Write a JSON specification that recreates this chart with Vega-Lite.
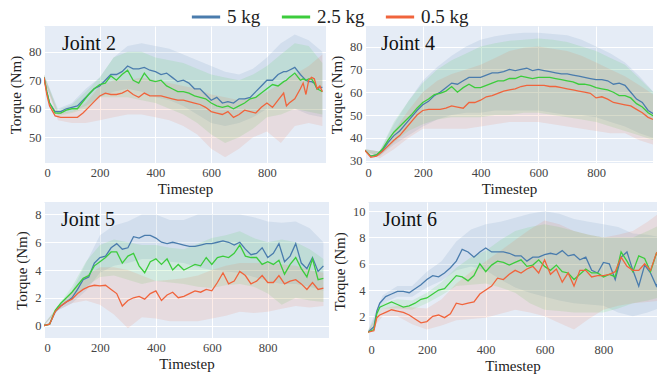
{
"$schema":"https://vega.github.io/schema/vega-lite/v6.json",
"padding":{"left":8,"top":1,"right":4,"bottom":4},
"config":{"view":{"fill":"#e5ecf6","stroke":null},
"font":"Liberation Serif",
"axis":{"domain":false,"ticks":false,"labelOverlap":false,"gridColor":"#ffffff","gridWidth":1,"labelFont":"Liberation Serif","labelFontSize":12.5,"labelColor":"#444444","labelPadding":3,"titleFont":"Liberation Serif","titleFontSize":15,"titleFontWeight":"normal","titleColor":"#222222","tickCount":12},
"axisX":{"titlePadding":3},
"axisY":{"titlePadding":5},
"legend":{"orient":"none","legendX":146,"legendY":-25,"direction":"horizontal","title":null,"symbolType":"stroke","symbolSize":800,"symbolStrokeWidth":3,"symbolOpacity":1,"labelFont":"Liberation Serif","labelFontSize":19,"labelColor":"#222222","columnPadding":14,"labelOffset":5},
"title":{"font":"Liberation Serif","fontSize":20,"fontWeight":"normal","color":"#111111","anchor":"start","frame":"group","baseline":"top","offset":-28}},
"datasets":{
"lines":[
{"p":2,"t":0,"b":71,"g":71,"r":71},{"p":2,"t":10,"b":66,"g":66,"r":65},{"p":2,"t":20,"b":62,"g":62,"r":61},{"p":2,"t":40,"b":59,"g":58.5,"r":57.5},{"p":2,"t":60,"b":59,"g":58.5,"r":57},{"p":2,"t":80,"b":60,"g":59.5,"r":57},{"p":2,"t":100,"b":60.5,"g":60,"r":57},{"p":2,"t":120,"b":61,"g":60,"r":57},{"p":2,"t":140,"b":63,"g":62.5,"r":58.5},{"p":2,"t":160,"b":65,"g":65,"r":60.5},{"p":2,"t":180,"b":67,"g":67,"r":62.5},{"p":2,"t":200,"b":68,"g":68.5,"r":64.5},{"p":2,"t":220,"b":70,"g":69,"r":65.5},{"p":2,"t":240,"b":72,"g":71.5,"r":65},{"p":2,"t":260,"b":72,"g":70,"r":65},{"p":2,"t":280,"b":73,"g":72,"r":65.5},{"p":2,"t":300,"b":75,"g":73.5,"r":66.5},{"p":2,"t":320,"b":74,"g":70,"r":65},{"p":2,"t":340,"b":74,"g":69,"r":64},{"p":2,"t":360,"b":74.5,"g":72.5,"r":65.5},{"p":2,"t":380,"b":73.5,"g":70,"r":64.5},{"p":2,"t":400,"b":73,"g":69.5,"r":64.5},{"p":2,"t":420,"b":72,"g":70,"r":64.5},{"p":2,"t":440,"b":72.5,"g":68,"r":64},{"p":2,"t":460,"b":71,"g":67,"r":63.5},{"p":2,"t":480,"b":69.5,"g":66,"r":63},{"p":2,"t":500,"b":70,"g":66,"r":63},{"p":2,"t":520,"b":69,"g":65.5,"r":62.5},{"p":2,"t":540,"b":67,"g":64.5,"r":62},{"p":2,"t":560,"b":67,"g":64,"r":61.5},{"p":2,"t":580,"b":65,"g":63.5,"r":60.5},{"p":2,"t":600,"b":63,"g":62,"r":59},{"p":2,"t":620,"b":64,"g":61,"r":58.5},{"p":2,"t":640,"b":62,"g":60.5,"r":58},{"p":2,"t":660,"b":62.5,"g":61,"r":59},{"p":2,"t":680,"b":62,"g":60,"r":57},{"p":2,"t":700,"b":63.5,"g":61,"r":58},{"p":2,"t":720,"b":63.5,"g":62,"r":59.5},{"p":2,"t":740,"b":64,"g":63.5,"r":59},{"p":2,"t":760,"b":66,"g":64,"r":58.5},{"p":2,"t":780,"b":68,"g":65.5,"r":60.5},{"p":2,"t":800,"b":70,"g":67,"r":62},{"p":2,"t":820,"b":70,"g":68.5,"r":60.5},{"p":2,"t":840,"b":72,"g":68,"r":63},{"p":2,"t":860,"b":73,"g":69.5,"r":65.5},{"p":2,"t":870,"b":73,"g":70,"r":61},{"p":2,"t":880,"b":73.5,"g":71,"r":62},{"p":2,"t":900,"b":74.5,"g":72.5,"r":63.5},{"p":2,"t":920,"b":72,"g":70,"r":67},{"p":2,"t":930,"b":71,"g":70.5,"r":69},{"p":2,"t":940,"b":70,"g":70,"r":65},{"p":2,"t":950,"b":69.5,"g":70.5,"r":70},{"p":2,"t":960,"b":69.5,"g":70.5,"r":71},{"p":2,"t":970,"b":69,"g":69,"r":70.5},{"p":2,"t":980,"b":67,"g":67,"r":67},{"p":2,"t":990,"b":67.5,"g":66.5,"r":68},{"p":2,"t":999,"b":67.5,"g":66,"r":66},
{"p":4,"t":0,"b":34.5,"g":34.5,"r":34.5},{"p":4,"t":20,"b":32,"g":32,"r":31.5},{"p":4,"t":40,"b":32.5,"g":32.5,"r":32},{"p":4,"t":60,"b":34.5,"g":35,"r":34},{"p":4,"t":80,"b":38,"g":39,"r":36.5},{"p":4,"t":100,"b":41,"g":42.5,"r":39},{"p":4,"t":120,"b":43,"g":45,"r":41},{"p":4,"t":140,"b":46,"g":47.5,"r":44},{"p":4,"t":160,"b":49,"g":50,"r":47},{"p":4,"t":180,"b":52,"g":53,"r":50},{"p":4,"t":200,"b":54.5,"g":55.5,"r":52},{"p":4,"t":220,"b":56,"g":57,"r":52.5},{"p":4,"t":240,"b":58.5,"g":59,"r":52.5},{"p":4,"t":260,"b":60,"g":59.5,"r":52.5},{"p":4,"t":280,"b":62,"g":60.5,"r":53},{"p":4,"t":300,"b":64,"g":62.5,"r":54},{"p":4,"t":320,"b":63.5,"g":60,"r":53.5},{"p":4,"t":340,"b":65,"g":62,"r":53},{"p":4,"t":360,"b":66.5,"g":63.5,"r":55.5},{"p":4,"t":380,"b":66.5,"g":62,"r":55.5},{"p":4,"t":400,"b":66.5,"g":62,"r":56.5},{"p":4,"t":420,"b":67.5,"g":63,"r":58},{"p":4,"t":440,"b":68.5,"g":64,"r":58.5},{"p":4,"t":460,"b":68.5,"g":65,"r":59.5},{"p":4,"t":480,"b":69,"g":65,"r":60.5},{"p":4,"t":500,"b":70,"g":66,"r":61},{"p":4,"t":520,"b":69.5,"g":66,"r":61.5},{"p":4,"t":540,"b":70,"g":67,"r":62.5},{"p":4,"t":560,"b":70.5,"g":66.5,"r":63},{"p":4,"t":580,"b":69.5,"g":66,"r":63},{"p":4,"t":600,"b":70,"g":66.5,"r":63},{"p":4,"t":620,"b":69.5,"g":66.5,"r":63},{"p":4,"t":640,"b":69,"g":66.5,"r":62.5},{"p":4,"t":660,"b":68.5,"g":66,"r":62.5},{"p":4,"t":680,"b":68,"g":65.5,"r":62},{"p":4,"t":700,"b":68,"g":65,"r":61.5},{"p":4,"t":720,"b":67.5,"g":64.5,"r":61},{"p":4,"t":740,"b":67,"g":63.5,"r":60.5},{"p":4,"t":760,"b":66.5,"g":63.5,"r":60},{"p":4,"t":780,"b":66,"g":63,"r":59.5},{"p":4,"t":800,"b":65.5,"g":62,"r":57.5},{"p":4,"t":820,"b":65.5,"g":61.5,"r":58},{"p":4,"t":840,"b":65,"g":61,"r":57},{"p":4,"t":860,"b":63.5,"g":60,"r":55.5},{"p":4,"t":880,"b":64,"g":58.5,"r":55},{"p":4,"t":900,"b":63,"g":58.5,"r":54.5},{"p":4,"t":920,"b":60,"g":57.5,"r":54},{"p":4,"t":940,"b":57,"g":55,"r":52.5},{"p":4,"t":960,"b":55.5,"g":53.5,"r":51},{"p":4,"t":980,"b":52,"g":51,"r":49},{"p":4,"t":999,"b":50.5,"g":49.5,"r":48},
{"p":5,"t":0,"b":0,"g":0,"r":0},{"p":5,"t":20,"b":0.1,"g":0.1,"r":0.1},{"p":5,"t":40,"b":1.0,"g":1.1,"r":1.0},{"p":5,"t":60,"b":1.4,"g":1.6,"r":1.4},{"p":5,"t":80,"b":1.7,"g":2.0,"r":1.7},{"p":5,"t":100,"b":2.0,"g":2.4,"r":1.9},{"p":5,"t":120,"b":2.6,"g":2.9,"r":2.3},{"p":5,"t":140,"b":3.3,"g":3.4,"r":2.6},{"p":5,"t":160,"b":3.5,"g":3.6,"r":2.8},{"p":5,"t":180,"b":4.5,"g":4.3,"r":2.9},{"p":5,"t":200,"b":4.9,"g":4.6,"r":2.85},{"p":5,"t":220,"b":5.0,"g":4.9,"r":2.9},{"p":5,"t":240,"b":5.6,"g":5.3,"r":2.6},{"p":5,"t":260,"b":5.9,"g":5.3,"r":2.3},{"p":5,"t":280,"b":5.5,"g":4.5,"r":1.4},{"p":5,"t":300,"b":5.6,"g":5.0,"r":1.8},{"p":5,"t":320,"b":6.4,"g":5.2,"r":2.0},{"p":5,"t":340,"b":6.3,"g":4.3,"r":2.1},{"p":5,"t":360,"b":6.5,"g":3.8,"r":1.9},{"p":5,"t":380,"b":6.5,"g":4.6,"r":2.3},{"p":5,"t":400,"b":6.3,"g":4.8,"r":2.5},{"p":5,"t":420,"b":6.0,"g":4.4,"r":1.8},{"p":5,"t":440,"b":5.9,"g":4.8,"r":2.2},{"p":5,"t":460,"b":6.0,"g":4.0,"r":2.4},{"p":5,"t":480,"b":5.9,"g":4.4,"r":2.0},{"p":5,"t":500,"b":5.8,"g":4.0,"r":2.1},{"p":5,"t":520,"b":5.7,"g":4.2,"r":2.3},{"p":5,"t":540,"b":5.7,"g":4.4,"r":2.5},{"p":5,"t":560,"b":5.8,"g":4.3,"r":2.4},{"p":5,"t":580,"b":5.9,"g":4.9,"r":2.6},{"p":5,"t":600,"b":5.9,"g":4.4,"r":2.5},{"p":5,"t":620,"b":6.0,"g":4.9,"r":3.1},{"p":5,"t":640,"b":6.1,"g":5.0,"r":3.8},{"p":5,"t":660,"b":6.0,"g":4.9,"r":3.0},{"p":5,"t":680,"b":5.8,"g":5.2,"r":3.2},{"p":5,"t":700,"b":6.0,"g":5.8,"r":3.9},{"p":5,"t":720,"b":5.5,"g":5.0,"r":3.6},{"p":5,"t":740,"b":5.1,"g":4.9,"r":3.0},{"p":5,"t":760,"b":5.2,"g":4.9,"r":3.2},{"p":5,"t":780,"b":5.6,"g":4.4,"r":3.6},{"p":5,"t":800,"b":4.9,"g":4.6,"r":3.1},{"p":5,"t":820,"b":5.2,"g":4.4,"r":3.1},{"p":5,"t":840,"b":5.9,"g":4.7,"r":3.6},{"p":5,"t":860,"b":4.6,"g":3.7,"r":3.0},{"p":5,"t":880,"b":5.0,"g":4.4,"r":3.2},{"p":5,"t":900,"b":5.9,"g":4.9,"r":3.3},{"p":5,"t":920,"b":4.5,"g":4.1,"r":3.0},{"p":5,"t":940,"b":4.1,"g":3.5,"r":2.6},{"p":5,"t":960,"b":4.9,"g":4.8,"r":3.1},{"p":5,"t":980,"b":3.9,"g":3.3,"r":2.6},{"p":5,"t":999,"b":4.3,"g":3.4,"r":2.7},
{"p":6,"t":0,"b":0.8,"g":0.8,"r":0.8},{"p":6,"t":20,"b":1.2,"g":1.0,"r":0.9},{"p":6,"t":30,"b":2.4,"g":2.2,"r":1.9},{"p":6,"t":40,"b":3.0,"g":2.7,"r":2.1},{"p":6,"t":60,"b":3.5,"g":2.9,"r":2.3},{"p":6,"t":80,"b":3.7,"g":3.1,"r":2.5},{"p":6,"t":100,"b":3.9,"g":2.9,"r":2.4},{"p":6,"t":120,"b":3.9,"g":2.7,"r":2.3},{"p":6,"t":140,"b":3.8,"g":2.8,"r":2.1},{"p":6,"t":160,"b":4.1,"g":3.0,"r":1.8},{"p":6,"t":180,"b":4.4,"g":3.3,"r":1.5},{"p":6,"t":200,"b":4.8,"g":3.4,"r":1.6},{"p":6,"t":220,"b":5.1,"g":3.7,"r":2.0},{"p":6,"t":240,"b":5.0,"g":4.0,"r":2.1},{"p":6,"t":260,"b":5.3,"g":4.1,"r":1.9},{"p":6,"t":280,"b":5.7,"g":4.6,"r":2.2},{"p":6,"t":300,"b":6.2,"g":5.1,"r":3.0},{"p":6,"t":320,"b":7.1,"g":5.0,"r":2.9},{"p":6,"t":340,"b":6.9,"g":4.7,"r":3.0},{"p":6,"t":360,"b":6.5,"g":5.1,"r":3.1},{"p":6,"t":380,"b":6.9,"g":6.0,"r":3.7},{"p":6,"t":400,"b":7.2,"g":5.4,"r":4.0},{"p":6,"t":420,"b":6.9,"g":5.9,"r":4.3},{"p":6,"t":440,"b":6.9,"g":6.2,"r":4.9},{"p":6,"t":460,"b":6.9,"g":6.1,"r":4.8},{"p":6,"t":480,"b":6.8,"g":5.9,"r":5.2},{"p":6,"t":500,"b":6.6,"g":6.1,"r":5.5},{"p":6,"t":520,"b":6.6,"g":6.3,"r":5.3},{"p":6,"t":540,"b":6.2,"g":5.8,"r":5.6},{"p":6,"t":560,"b":6.5,"g":5.9,"r":5.8},{"p":6,"t":580,"b":6.5,"g":6.3,"r":5.3},{"p":6,"t":600,"b":6.7,"g":5.8,"r":6.3},{"p":6,"t":620,"b":6.8,"g":5.5,"r":5.2},{"p":6,"t":640,"b":6.7,"g":5.9,"r":5.6},{"p":6,"t":660,"b":7.0,"g":5.4,"r":4.6},{"p":6,"t":680,"b":6.6,"g":5.3,"r":5.3},{"p":6,"t":700,"b":6.7,"g":4.8,"r":4.3},{"p":6,"t":720,"b":6.3,"g":5.2,"r":5.5},{"p":6,"t":740,"b":6.5,"g":5.6,"r":5.5},{"p":6,"t":760,"b":5.5,"g":5.3,"r":5.0},{"p":6,"t":780,"b":5.3,"g":5.3,"r":5.1},{"p":6,"t":800,"b":6.1,"g":5.0,"r":5.1},{"p":6,"t":820,"b":6.0,"g":5.2,"r":5.2},{"p":6,"t":840,"b":4.8,"g":5.0,"r":5.4},{"p":6,"t":860,"b":6.5,"g":6.9,"r":6.5},{"p":6,"t":880,"b":6.9,"g":6.2,"r":5.8},{"p":6,"t":900,"b":5.5,"g":5.4,"r":5.5},{"p":6,"t":920,"b":4.3,"g":6.6,"r":5.5},{"p":6,"t":940,"b":5.9,"g":6.4,"r":6.0},{"p":6,"t":960,"b":5.3,"g":5.4,"r":5.5},{"p":6,"t":980,"b":4.3,"g":6.8,"r":6.8},{"p":6,"t":999,"b":5.2,"g":6.1,"r":7.3}
],
"bands":[
{"p":2,"m":"b","t":0,"lo":70,"hi":72},{"p":2,"m":"b","t":50,"lo":58,"hi":60},{"p":2,"m":"b","t":100,"lo":59,"hi":62},{"p":2,"m":"b","t":150,"lo":61,"hi":67},{"p":2,"m":"b","t":200,"lo":64,"hi":71},{"p":2,"m":"b","t":250,"lo":66,"hi":78},{"p":2,"m":"b","t":300,"lo":67,"hi":82},{"p":2,"m":"b","t":350,"lo":66,"hi":83},{"p":2,"m":"b","t":400,"lo":64,"hi":82},{"p":2,"m":"b","t":450,"lo":63,"hi":81},{"p":2,"m":"b","t":500,"lo":61,"hi":79},{"p":2,"m":"b","t":550,"lo":58,"hi":77},{"p":2,"m":"b","t":600,"lo":55,"hi":75},{"p":2,"m":"b","t":650,"lo":54,"hi":73},{"p":2,"m":"b","t":700,"lo":55,"hi":72},{"p":2,"m":"b","t":750,"lo":57,"hi":74},{"p":2,"m":"b","t":800,"lo":60,"hi":78},{"p":2,"m":"b","t":850,"lo":60,"hi":83},{"p":2,"m":"b","t":900,"lo":60,"hi":86},{"p":2,"m":"b","t":950,"lo":58,"hi":84},{"p":2,"m":"b","t":999,"lo":57,"hi":80},
{"p":2,"m":"g","t":0,"lo":70,"hi":72},{"p":2,"m":"g","t":50,"lo":57.5,"hi":59.5},{"p":2,"m":"g","t":100,"lo":58.5,"hi":61.5},{"p":2,"m":"g","t":150,"lo":60,"hi":66},{"p":2,"m":"g","t":200,"lo":64,"hi":71},{"p":2,"m":"g","t":250,"lo":64,"hi":78},{"p":2,"m":"g","t":300,"lo":64,"hi":80},{"p":2,"m":"g","t":350,"lo":63,"hi":80},{"p":2,"m":"g","t":400,"lo":62,"hi":78},{"p":2,"m":"g","t":450,"lo":60,"hi":77},{"p":2,"m":"g","t":500,"lo":58,"hi":76},{"p":2,"m":"g","t":550,"lo":55,"hi":74},{"p":2,"m":"g","t":600,"lo":51,"hi":72},{"p":2,"m":"g","t":650,"lo":48,"hi":71},{"p":2,"m":"g","t":700,"lo":50,"hi":70},{"p":2,"m":"g","t":750,"lo":53,"hi":72},{"p":2,"m":"g","t":800,"lo":57,"hi":75},{"p":2,"m":"g","t":850,"lo":58,"hi":79},{"p":2,"m":"g","t":900,"lo":60,"hi":83},{"p":2,"m":"g","t":950,"lo":59,"hi":82},{"p":2,"m":"g","t":999,"lo":58,"hi":76},
{"p":2,"m":"r","t":0,"lo":70,"hi":72},{"p":2,"m":"r","t":50,"lo":56,"hi":58.5},{"p":2,"m":"r","t":100,"lo":55,"hi":59},{"p":2,"m":"r","t":150,"lo":55,"hi":62},{"p":2,"m":"r","t":200,"lo":56,"hi":68},{"p":2,"m":"r","t":250,"lo":57,"hi":70},{"p":2,"m":"r","t":300,"lo":58,"hi":70},{"p":2,"m":"r","t":350,"lo":58,"hi":71},{"p":2,"m":"r","t":400,"lo":57,"hi":70},{"p":2,"m":"r","t":450,"lo":56,"hi":69},{"p":2,"m":"r","t":500,"lo":54,"hi":68},{"p":2,"m":"r","t":550,"lo":51,"hi":67},{"p":2,"m":"r","t":600,"lo":46,"hi":65},{"p":2,"m":"r","t":650,"lo":43,"hi":64},{"p":2,"m":"r","t":700,"lo":46,"hi":63},{"p":2,"m":"r","t":750,"lo":50,"hi":64},{"p":2,"m":"r","t":800,"lo":52,"hi":66},{"p":2,"m":"r","t":850,"lo":48,"hi":69},{"p":2,"m":"r","t":900,"lo":54,"hi":72},{"p":2,"m":"r","t":950,"lo":55,"hi":75},{"p":2,"m":"r","t":999,"lo":54,"hi":79},
{"p":4,"m":"b","t":0,"lo":34,"hi":35},{"p":4,"m":"b","t":50,"lo":32,"hi":34},{"p":4,"m":"b","t":100,"lo":37,"hi":46},{"p":4,"m":"b","t":150,"lo":41,"hi":56},{"p":4,"m":"b","t":200,"lo":45,"hi":65},{"p":4,"m":"b","t":250,"lo":48,"hi":71},{"p":4,"m":"b","t":300,"lo":50,"hi":76},{"p":4,"m":"b","t":350,"lo":51,"hi":80},{"p":4,"m":"b","t":400,"lo":51,"hi":83},{"p":4,"m":"b","t":450,"lo":52,"hi":84.5},{"p":4,"m":"b","t":500,"lo":52,"hi":85.5},{"p":4,"m":"b","t":550,"lo":52,"hi":86},{"p":4,"m":"b","t":600,"lo":52,"hi":86},{"p":4,"m":"b","t":650,"lo":51,"hi":85.5},{"p":4,"m":"b","t":700,"lo":50,"hi":85},{"p":4,"m":"b","t":750,"lo":50,"hi":83},{"p":4,"m":"b","t":800,"lo":49,"hi":80},{"p":4,"m":"b","t":850,"lo":47,"hi":77},{"p":4,"m":"b","t":900,"lo":45,"hi":73},{"p":4,"m":"b","t":950,"lo":42,"hi":67},{"p":4,"m":"b","t":999,"lo":40,"hi":60},
{"p":4,"m":"g","t":0,"lo":34,"hi":35},{"p":4,"m":"g","t":50,"lo":32,"hi":34},{"p":4,"m":"g","t":100,"lo":38,"hi":47},{"p":4,"m":"g","t":150,"lo":43,"hi":56},{"p":4,"m":"g","t":200,"lo":46,"hi":64},{"p":4,"m":"g","t":250,"lo":48,"hi":70},{"p":4,"m":"g","t":300,"lo":49,"hi":74},{"p":4,"m":"g","t":350,"lo":49,"hi":77},{"p":4,"m":"g","t":400,"lo":49,"hi":80},{"p":4,"m":"g","t":450,"lo":50,"hi":81.5},{"p":4,"m":"g","t":500,"lo":50,"hi":82.5},{"p":4,"m":"g","t":550,"lo":51,"hi":83},{"p":4,"m":"g","t":600,"lo":51,"hi":83.5},{"p":4,"m":"g","t":650,"lo":50,"hi":83},{"p":4,"m":"g","t":700,"lo":49,"hi":82},{"p":4,"m":"g","t":750,"lo":48,"hi":80},{"p":4,"m":"g","t":800,"lo":47,"hi":78},{"p":4,"m":"g","t":850,"lo":45,"hi":75},{"p":4,"m":"g","t":900,"lo":43,"hi":72},{"p":4,"m":"g","t":950,"lo":41,"hi":66},{"p":4,"m":"g","t":999,"lo":39,"hi":60},
{"p":4,"m":"r","t":0,"lo":34,"hi":35},{"p":4,"m":"r","t":50,"lo":31,"hi":34},{"p":4,"m":"r","t":100,"lo":35,"hi":43},{"p":4,"m":"r","t":150,"lo":40,"hi":52},{"p":4,"m":"r","t":200,"lo":44,"hi":60},{"p":4,"m":"r","t":250,"lo":44,"hi":65},{"p":4,"m":"r","t":300,"lo":44,"hi":68},{"p":4,"m":"r","t":350,"lo":44,"hi":70},{"p":4,"m":"r","t":400,"lo":45,"hi":72},{"p":4,"m":"r","t":450,"lo":46,"hi":75},{"p":4,"m":"r","t":500,"lo":47,"hi":78},{"p":4,"m":"r","t":550,"lo":47,"hi":79.5},{"p":4,"m":"r","t":600,"lo":47,"hi":80},{"p":4,"m":"r","t":650,"lo":46,"hi":79},{"p":4,"m":"r","t":700,"lo":45,"hi":78},{"p":4,"m":"r","t":750,"lo":44,"hi":76},{"p":4,"m":"r","t":800,"lo":43,"hi":73},{"p":4,"m":"r","t":850,"lo":42,"hi":70},{"p":4,"m":"r","t":900,"lo":42,"hi":67},{"p":4,"m":"r","t":950,"lo":39,"hi":63},{"p":4,"m":"r","t":999,"lo":37,"hi":59},
{"p":5,"m":"b","t":0,"lo":0,"hi":0.1},{"p":5,"m":"b","t":50,"lo":1.1,"hi":1.3},{"p":5,"m":"b","t":100,"lo":1.6,"hi":2.5},{"p":5,"m":"b","t":150,"lo":2.5,"hi":4.5},{"p":5,"m":"b","t":200,"lo":3.8,"hi":6.5},{"p":5,"m":"b","t":250,"lo":4.3,"hi":7.2},{"p":5,"m":"b","t":300,"lo":4.5,"hi":7.5},{"p":5,"m":"b","t":350,"lo":4.8,"hi":8.0},{"p":5,"m":"b","t":400,"lo":4.8,"hi":8.0},{"p":5,"m":"b","t":450,"lo":4.6,"hi":7.6},{"p":5,"m":"b","t":500,"lo":4.5,"hi":7.6},{"p":5,"m":"b","t":550,"lo":4.2,"hi":8.0},{"p":5,"m":"b","t":600,"lo":4.0,"hi":8.0},{"p":5,"m":"b","t":650,"lo":3.9,"hi":8.0},{"p":5,"m":"b","t":700,"lo":3.8,"hi":8.0},{"p":5,"m":"b","t":750,"lo":3.5,"hi":7.8},{"p":5,"m":"b","t":800,"lo":3.2,"hi":7.5},{"p":5,"m":"b","t":850,"lo":3.0,"hi":7.4},{"p":5,"m":"b","t":900,"lo":3.0,"hi":7.5},{"p":5,"m":"b","t":950,"lo":2.8,"hi":7.0},{"p":5,"m":"b","t":999,"lo":2.5,"hi":6.0},
{"p":5,"m":"g","t":0,"lo":0,"hi":0.1},{"p":5,"m":"g","t":50,"lo":1.2,"hi":1.4},{"p":5,"m":"g","t":100,"lo":2.0,"hi":2.8},{"p":5,"m":"g","t":150,"lo":2.8,"hi":4.6},{"p":5,"m":"g","t":200,"lo":3.5,"hi":5.8},{"p":5,"m":"g","t":250,"lo":3.6,"hi":6.2},{"p":5,"m":"g","t":300,"lo":3.3,"hi":6.0},{"p":5,"m":"g","t":350,"lo":3.0,"hi":5.8},{"p":5,"m":"g","t":400,"lo":3.2,"hi":5.8},{"p":5,"m":"g","t":450,"lo":3.1,"hi":5.6},{"p":5,"m":"g","t":500,"lo":3.0,"hi":5.5},{"p":5,"m":"g","t":550,"lo":2.8,"hi":5.9},{"p":5,"m":"g","t":600,"lo":2.7,"hi":6.3},{"p":5,"m":"g","t":650,"lo":2.9,"hi":6.5},{"p":5,"m":"g","t":700,"lo":3.0,"hi":6.8},{"p":5,"m":"g","t":750,"lo":2.8,"hi":6.3},{"p":5,"m":"g","t":800,"lo":2.3,"hi":6.0},{"p":5,"m":"g","t":850,"lo":1.5,"hi":6.2},{"p":5,"m":"g","t":900,"lo":2.0,"hi":6.0},{"p":5,"m":"g","t":950,"lo":1.8,"hi":5.5},{"p":5,"m":"g","t":999,"lo":1.7,"hi":4.8},
{"p":5,"m":"r","t":0,"lo":0,"hi":0.1},{"p":5,"m":"r","t":50,"lo":1.1,"hi":1.3},{"p":5,"m":"r","t":100,"lo":1.6,"hi":2.4},{"p":5,"m":"r","t":150,"lo":1.8,"hi":3.6},{"p":5,"m":"r","t":200,"lo":1.5,"hi":4.2},{"p":5,"m":"r","t":250,"lo":0.8,"hi":4.2},{"p":5,"m":"r","t":300,"lo":-0.2,"hi":4.0},{"p":5,"m":"r","t":350,"lo":0.6,"hi":3.6},{"p":5,"m":"r","t":400,"lo":0.5,"hi":3.2},{"p":5,"m":"r","t":450,"lo":0.3,"hi":3.3},{"p":5,"m":"r","t":500,"lo":0.3,"hi":3.4},{"p":5,"m":"r","t":550,"lo":0.3,"hi":3.6},{"p":5,"m":"r","t":600,"lo":0.5,"hi":4.0},{"p":5,"m":"r","t":650,"lo":0.7,"hi":4.3},{"p":5,"m":"r","t":700,"lo":1.0,"hi":4.5},{"p":5,"m":"r","t":750,"lo":0.9,"hi":4.5},{"p":5,"m":"r","t":800,"lo":1.0,"hi":4.5},{"p":5,"m":"r","t":850,"lo":1.2,"hi":4.4},{"p":5,"m":"r","t":900,"lo":1.4,"hi":4.3},{"p":5,"m":"r","t":950,"lo":1.3,"hi":4.0},{"p":5,"m":"r","t":999,"lo":1.4,"hi":3.8},
{"p":6,"m":"b","t":0,"lo":0.7,"hi":0.9},{"p":6,"m":"b","t":50,"lo":3.0,"hi":3.6},{"p":6,"m":"b","t":100,"lo":3.5,"hi":4.3},{"p":6,"m":"b","t":150,"lo":3.5,"hi":4.3},{"p":6,"m":"b","t":200,"lo":4.2,"hi":5.4},{"p":6,"m":"b","t":250,"lo":4.7,"hi":6.2},{"p":6,"m":"b","t":300,"lo":5.5,"hi":7.7},{"p":6,"m":"b","t":350,"lo":5.8,"hi":8.6},{"p":6,"m":"b","t":400,"lo":5.5,"hi":9.0},{"p":6,"m":"b","t":450,"lo":4.8,"hi":9.2},{"p":6,"m":"b","t":500,"lo":4.2,"hi":9.5},{"p":6,"m":"b","t":550,"lo":3.8,"hi":9.8},{"p":6,"m":"b","t":600,"lo":3.5,"hi":10.0},{"p":6,"m":"b","t":650,"lo":3.2,"hi":9.8},{"p":6,"m":"b","t":700,"lo":3.0,"hi":9.4},{"p":6,"m":"b","t":750,"lo":2.9,"hi":9.2},{"p":6,"m":"b","t":800,"lo":2.8,"hi":9.0},{"p":6,"m":"b","t":850,"lo":2.3,"hi":8.8},{"p":6,"m":"b","t":900,"lo":2.0,"hi":8.3},{"p":6,"m":"b","t":950,"lo":2.3,"hi":8.2},{"p":6,"m":"b","t":999,"lo":2.7,"hi":8.0},
{"p":6,"m":"g","t":0,"lo":0.7,"hi":0.9},{"p":6,"m":"g","t":50,"lo":2.6,"hi":3.0},{"p":6,"m":"g","t":100,"lo":2.6,"hi":3.3},{"p":6,"m":"g","t":150,"lo":2.5,"hi":3.2},{"p":6,"m":"g","t":200,"lo":3.0,"hi":3.8},{"p":6,"m":"g","t":250,"lo":3.6,"hi":4.6},{"p":6,"m":"g","t":300,"lo":4.3,"hi":5.7},{"p":6,"m":"g","t":350,"lo":4.4,"hi":6.5},{"p":6,"m":"g","t":400,"lo":4.5,"hi":7.0},{"p":6,"m":"g","t":450,"lo":4.2,"hi":7.8},{"p":6,"m":"g","t":500,"lo":3.8,"hi":8.5},{"p":6,"m":"g","t":550,"lo":3.0,"hi":8.8},{"p":6,"m":"g","t":600,"lo":2.5,"hi":9.0},{"p":6,"m":"g","t":650,"lo":2.4,"hi":8.8},{"p":6,"m":"g","t":700,"lo":2.3,"hi":8.5},{"p":6,"m":"g","t":750,"lo":2.3,"hi":8.2},{"p":6,"m":"g","t":800,"lo":2.3,"hi":8.0},{"p":6,"m":"g","t":850,"lo":2.6,"hi":8.0},{"p":6,"m":"g","t":900,"lo":3.0,"hi":8.0},{"p":6,"m":"g","t":950,"lo":3.2,"hi":8.5},{"p":6,"m":"g","t":999,"lo":3.5,"hi":9.0},
{"p":6,"m":"r","t":0,"lo":0.7,"hi":0.9},{"p":6,"m":"r","t":50,"lo":2.0,"hi":2.6},{"p":6,"m":"r","t":100,"lo":2.0,"hi":2.8},{"p":6,"m":"r","t":150,"lo":1.4,"hi":2.7},{"p":6,"m":"r","t":200,"lo":1.0,"hi":2.6},{"p":6,"m":"r","t":250,"lo":1.3,"hi":3.3},{"p":6,"m":"r","t":300,"lo":1.7,"hi":4.5},{"p":6,"m":"r","t":350,"lo":1.8,"hi":5.4},{"p":6,"m":"r","t":400,"lo":1.9,"hi":6.2},{"p":6,"m":"r","t":450,"lo":2.2,"hi":7.0},{"p":6,"m":"r","t":500,"lo":2.5,"hi":7.8},{"p":6,"m":"r","t":550,"lo":2.3,"hi":8.6},{"p":6,"m":"r","t":600,"lo":2.0,"hi":9.3},{"p":6,"m":"r","t":650,"lo":1.5,"hi":9.0},{"p":6,"m":"r","t":700,"lo":1.0,"hi":8.5},{"p":6,"m":"r","t":750,"lo":1.8,"hi":8.2},{"p":6,"m":"r","t":800,"lo":2.5,"hi":8.0},{"p":6,"m":"r","t":850,"lo":2.8,"hi":8.2},{"p":6,"m":"r","t":900,"lo":3.0,"hi":8.5},{"p":6,"m":"r","t":950,"lo":3.1,"hi":9.2},{"p":6,"m":"r","t":999,"lo":3.2,"hi":10.0}
]},
"spacing":5,
"vconcat":[
{"spacing":3,"hconcat":[
{"width":282,"height":137,"title":{"text":"Joint 2","dx":18},
"layer":[
{"data":{"name":"bands"},"transform":[{"filter":"datum.p==2"}],"mark":{"type":"area","opacity":0.12,"clip":true},
"encoding":{"x":{"field":"t","type":"quantitative","scale":{"domain":[0,1012],"nice":false},"axis":{"values":[0,200,400,600,800],"title":"Timestep"}},
"y":{"field":"lo","type":"quantitative","scale":{"domain":[41,89],"nice":false,"zero":false},"axis":{"values":[50,60,70,80],"title":"Torque (Nm)"}},
"y2":{"field":"hi"},
"color":{"field":"m","type":"nominal","scale":{"domain":["b","g","r"],"range":["#4a7cad","#3ccc3c","#f0643c"]},"legend":{"labelExpr":"datum.value=='b'?'5 kg':datum.value=='g'?'2.5 kg':'0.5 kg'"}}}},
{"data":{"name":"lines"},"transform":[{"filter":"datum.p==2"},{"fold":["b","g","r"],"as":["m","y"]}],"mark":{"type":"line","strokeWidth":1.3,"clip":true},
"encoding":{"x":{"field":"t","type":"quantitative"},"y":{"field":"y","type":"quantitative"},
"color":{"field":"m","type":"nominal"}}}
]},
{"width":288,"height":137,"title":{"text":"Joint 4","dx":16},
"layer":[
{"data":{"name":"bands"},"transform":[{"filter":"datum.p==4"}],"mark":{"type":"area","opacity":0.12,"clip":true},
"encoding":{"x":{"field":"t","type":"quantitative","scale":{"domain":[0,997],"nice":false},"axis":{"values":[0,200,400,600,800],"title":"Timestep"}},
"y":{"field":"lo","type":"quantitative","scale":{"domain":[29,89],"nice":false,"zero":false},"axis":{"values":[30,40,50,60,70,80],"title":"Torque (Nm)"}},
"y2":{"field":"hi"},
"color":{"field":"m","type":"nominal"}}},
{"data":{"name":"lines"},"transform":[{"filter":"datum.p==4"},{"fold":["b","g","r"],"as":["m","y"]}],"mark":{"type":"line","strokeWidth":1.3,"clip":true},
"encoding":{"x":{"field":"t","type":"quantitative"},"y":{"field":"y","type":"quantitative"},
"color":{"field":"m","type":"nominal"}}}
]}
]},
{"spacing":3,"hconcat":[
{"width":285,"height":136,"title":{"text":"Joint 5","dx":17},
"layer":[
{"data":{"name":"bands"},"transform":[{"filter":"datum.p==5"}],"mark":{"type":"area","opacity":0.12,"clip":true},
"encoding":{"x":{"field":"t","type":"quantitative","scale":{"domain":[0,1019],"nice":false},"axis":{"values":[0,200,400,600,800],"title":"Timestep"}},
"y":{"field":"lo","type":"quantitative","scale":{"domain":[-0.9,8.9],"nice":false,"zero":false},"axis":{"values":[0,2,4,6,8],"title":"Torque (Nm)"}},
"y2":{"field":"hi"},
"color":{"field":"m","type":"nominal"}}},
{"data":{"name":"lines"},"transform":[{"filter":"datum.p==5"},{"fold":["b","g","r"],"as":["m","y"]}],"mark":{"type":"line","strokeWidth":1.3,"clip":true},
"encoding":{"x":{"field":"t","type":"quantitative"},"y":{"field":"y","type":"quantitative"},
"color":{"field":"m","type":"nominal"}}}
]},
{"width":289,"height":138,"title":{"text":"Joint 6","dx":15},
"layer":[
{"data":{"name":"bands"},"transform":[{"filter":"datum.p==6"}],"mark":{"type":"area","opacity":0.12,"clip":true},
"encoding":{"x":{"field":"t","type":"quantitative","scale":{"domain":[0,982],"nice":false},"axis":{"values":[0,200,400,600,800],"title":"Timestep"}},
"y":{"field":"lo","type":"quantitative","scale":{"domain":[0.2,10.7],"nice":false,"zero":false},"axis":{"values":[2,4,6,8,10],"title":"Torque (Nm)"}},
"y2":{"field":"hi"},
"color":{"field":"m","type":"nominal"}}},
{"data":{"name":"lines"},"transform":[{"filter":"datum.p==6"},{"fold":["b","g","r"],"as":["m","y"]}],"mark":{"type":"line","strokeWidth":1.3,"clip":true},
"encoding":{"x":{"field":"t","type":"quantitative"},"y":{"field":"y","type":"quantitative"},
"color":{"field":"m","type":"nominal"}}}
]}
]}
]
}
